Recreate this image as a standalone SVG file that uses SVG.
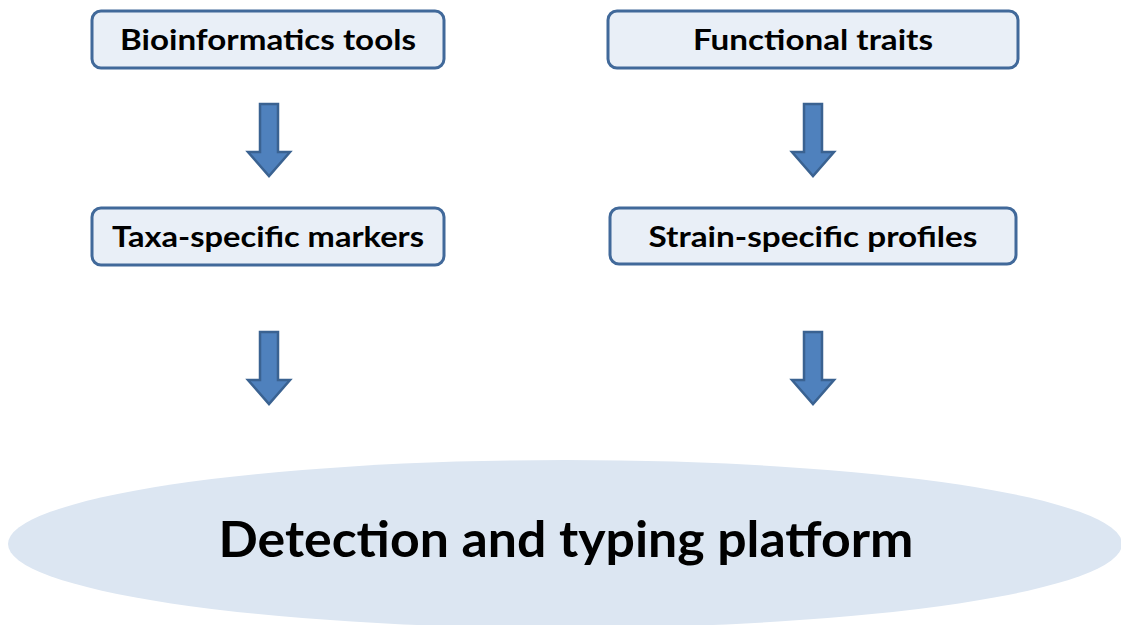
<svg xmlns="http://www.w3.org/2000/svg" width="1121" height="625" viewBox="0 0 1121 625">
<style>
.box{fill:#e9eff7;stroke:#41699a;stroke-width:3}
.lbl{font-family:Lato,"Liberation Sans",sans-serif;font-weight:bold;font-size:29px;fill:#000;text-anchor:middle}
.arr{fill:#4f81bd;stroke:#3a6291;stroke-width:2.5;stroke-linejoin:miter}
.big{font-family:Lato,"Liberation Sans",sans-serif;font-weight:bold;font-size:49px;fill:#000;text-anchor:middle}
</style>
<defs>
<path id="arrow" d="M-9,0 H9 V48 H21 L0,72 L-21,48 H-9 Z"/>
</defs>
<rect width="1121" height="625" fill="#fff"/>
<g id="platform">
<ellipse cx="565" cy="544" rx="557" ry="84" fill="#dce6f2"/>
<text class="big" x="566" y="557" textLength="695" lengthAdjust="spacingAndGlyphs">Detection and typing platform</text>
</g>
<g id="bioinformatics">
<rect class="box" x="92" y="11" width="352" height="57" rx="9"/>
<text class="lbl" x="268" y="50" textLength="296" lengthAdjust="spacingAndGlyphs">Bioinformatics tools</text>
</g>
<g id="functional">
<rect class="box" x="608" y="11" width="410" height="57" rx="9"/>
<text class="lbl" x="813" y="50" textLength="240" lengthAdjust="spacingAndGlyphs">Functional traits</text>
</g>
<g id="taxa">
<rect class="box" x="92" y="208" width="352" height="57" rx="9"/>
<text class="lbl" x="268" y="247" textLength="312" lengthAdjust="spacingAndGlyphs">Taxa-specific markers</text>
</g>
<g id="strain">
<rect class="box" x="610" y="208" width="406" height="56" rx="9"/>
<text class="lbl" x="813" y="247" textLength="329" lengthAdjust="spacingAndGlyphs">Strain-specific profiles</text>
</g>
<g id="connectors">
<use href="#arrow" class="arr" x="269" y="104"/>
<use href="#arrow" class="arr" x="813" y="104"/>
<use href="#arrow" class="arr" x="269" y="332"/>
<use href="#arrow" class="arr" x="813" y="332"/>
</g>
</svg>
